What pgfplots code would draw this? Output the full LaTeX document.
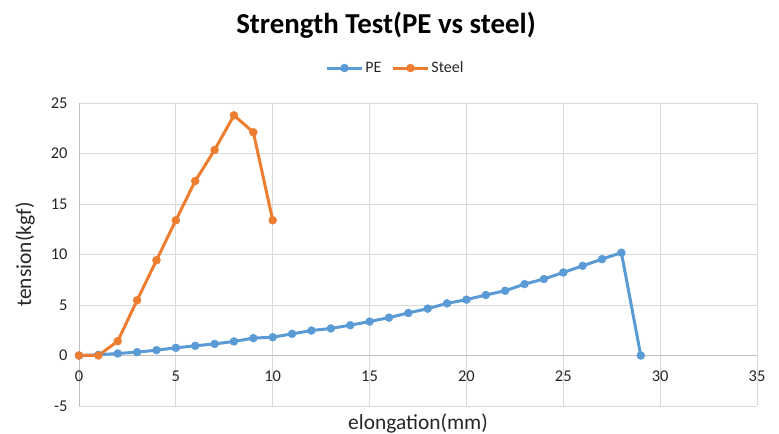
\documentclass[border=0pt]{standalone}
\usepackage{pgfplots}
\pgfplotsset{compat=1.18}
\usepackage{fontspec}
\setmainfont{Carlito}
\definecolor{peblue}{HTML}{5B9BD5}
\definecolor{storange}{HTML}{ED7D31}
\definecolor{gridgray}{HTML}{D9D9D9}
\definecolor{axisgray}{HTML}{BFBFBF}
\begin{document}
\begin{tikzpicture}
\begin{axis}[
  scale only axis, width=678bp, height=303bp,
  xmin=0, xmax=35, ymin=-5, ymax=25,
  xtick={0,5,...,35}, ytick={-5,0,...,25},
  axis x line=middle, axis y line=left,
  axis line style={-, color=axisgray, line width=0.9bp},
  hide obscured x ticks=false, hide obscured y ticks=false,
  grid=major, major grid style={color=gridgray, line width=0.9bp},
  major tick length=0pt,
  clip=false,
  /pgf/number format/assume math mode=true,
  tick label style={font=\fontsize{16.5}{19}\selectfont, text=black!85},
  xticklabel style={anchor=north, yshift=-12bp},
  yticklabel style={anchor=east, xshift=-8bp},
  xlabel={elongation(mm)}, ylabel={tension(kgf)},
  xlabel style={at={(axis description cs:0.5,-0.0594)}, anchor=center, font=\fontsize{21.5}{25}\selectfont, text=black!85},
  ylabel style={at={(axis description cs:-0.0796,0.5)}, anchor=center, rotate=0, font=\fontsize{21.5}{25}\selectfont, text=black!85},
  title={Strength Test(PE vs steel)},
  title style={at={(axis description cs:0.4528,1.2376)}, anchor=center, font=\bfseries\fontsize{29}{34}\selectfont},
  legend columns=2,
  legend style={at={(axis description cs:0.4668,1.1155)}, anchor=center, draw=none, fill=none,
    font=\fontsize{16}{18}\selectfont, text=black!85,
    /tikz/every even column/.append style={column sep=8bp}},
  legend image code/.code={\draw[#1, mark repeat=2, mark phase=2] plot coordinates {(0bp,0bp) (17.5bp,0bp) (35bp,0bp)};},
]
\coordinate (SW) at (rel axis cs:0,0);
\addplot[color=peblue, line width=3bp, mark=*, mark size=4bp, mark options={solid, fill=peblue, draw=peblue, line width=0.4bp}] coordinates {
(0,0) (1,0.07) (2,0.2) (3,0.33) (4,0.53) (5,0.76) (6,0.96) (7,1.15) (8,1.39) (9,1.72)
(10,1.81) (11,2.14) (12,2.47) (13,2.68) (14,3.0) (15,3.36) (16,3.75) (17,4.21) (18,4.64) (19,5.16)
(20,5.53) (21,5.99) (22,6.41) (23,7.07) (24,7.57) (25,8.22) (26,8.88) (27,9.54) (28,10.18) (29,0)
};
\addlegendentry{PE}
\addplot[color=storange, line width=3bp, mark=*, mark size=4bp, mark options={solid, fill=storange, draw=storange, line width=0.4bp}] coordinates {
(0,0) (1,0) (2,1.42) (3,5.47) (4,9.43) (5,13.39) (6,17.28) (7,20.35) (8,23.78) (9,22.1) (10,13.39)
};
\addlegendentry{Steel}
\end{axis}
\pgfresetboundingbox
\path (SW) ++(-79bp,-28bp) rectangle ++(779bp,434bp);
\end{tikzpicture}
\end{document}
